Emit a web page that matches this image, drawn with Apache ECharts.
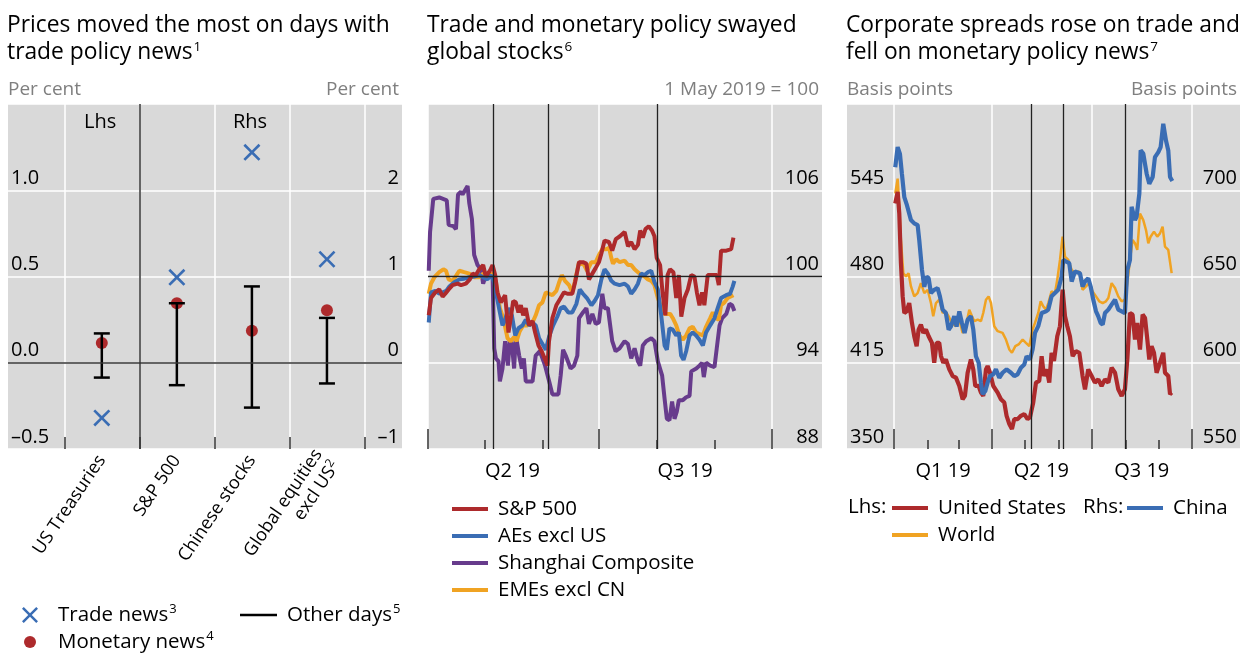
<!DOCTYPE html>
<html><head><meta charset="utf-8">
<script src="https://cdn.jsdelivr.net/npm/echarts@6/dist/echarts.min.js"></script>
<style>html,body{margin:0;padding:0;background:#fff}#c{width:1252px;height:654px}</style>
</head><body><div id="c"></div>
<script>
// ================= DATA =================
// Panel 1
const p1Categories = ['US Treasuries', 'S&P 500', 'Chinese stocks', 'Global equities\nexcl US'];
const p1CategorySup = ['', '', '', '2'];
const p1Side = ['lhs', 'rhs', 'rhs', 'rhs'];
const p1TradeNews = [-0.32, 0.99, 2.44, 1.20];
const p1MonetaryNews = [0.115, 0.69, 0.37, 0.61];
const p1OtherHigh = [0.17, 0.69, 0.885, 0.52];
const p1OtherLow = [-0.086, -0.26, -0.52, -0.24];
const p1LhsTicks = [-0.5, 0, 0.5, 1.0, 1.5];
const p1RhsTicks = [-1, 0, 1, 2, 3];

// Panel 2 (days since 1 Apr 2019, index 1 May 2019 = 100)
const p2Base = '2019-04-01';
const p2SpDays = [0.4,1.6,3.9,6.0,7.8,9.2,11.0,13.1,15.8,17.6,20.2,22.3,23.8,25.5,27.3,29.4,30.8,33.0,34.4,35.8,37.0,38.8,41.1,42.9,44.1,45.4,46.8,48.2,49.5,50.7,52.1,53.9,55.7,57.1,58.9,60.6,62.8,63.7,64.5,66.3,68.4,70.7,72.5,74.3,76.9,78.4,80.5,82.6,84.4,85.8,87.6,89.4,91.1,92.4,94.1,96.4,98.2,100.1,102.3,104.8,106.6,108.3,110.1,111.9,113.1,114.5,115.9,117.7,119.4,120.7,121.9,123.7,125.0,126.5,127.7,129.0,130.8,132.3,133.7,135.0,136.7,138.5,140.3,142.0,143.3,144.7,146.1,147.3,149.1,151.8,153.9,155.0,156.2,159.0,161.6,162.8];
const p2SpVals = [97.3,98.5,98.9,99.1,98.6,98.8,99.1,99.4,99.5,99.4,99.5,99.8,100.2,100.1,100.5,100.8,100.0,100.4,100.8,100.1,98.9,98.2,98.7,96.1,97.1,98.3,98.2,97.5,98.0,97.3,97.8,96.6,96.9,96.1,95.2,94.8,94.1,93.8,95.5,97.1,98.0,98.5,98.9,98.8,98.8,99.6,101.0,101.0,100.9,99.8,100.2,100.6,101.0,101.6,102.5,102.4,101.8,102.6,102.8,103.1,102.1,102.4,101.9,102.2,103.2,102.7,103.3,103.5,103.2,102.8,101.3,100.8,98.9,97.3,100.1,100.5,100.3,98.5,100.1,97.2,98.5,99.1,100.1,100.0,98.9,98.0,98.9,98.0,100.1,100.1,100.1,99.4,101.8,101.8,101.9,102.7];
const p2AeDays = [0.4,1.6,3.9,6.0,9.7,11.4,14.0,16.7,19.3,22.0,24.6,27.3,29.4,31.7,33.5,35.3,36.5,38.3,39.7,41.1,42.9,44.7,46.5,48.2,50.4,52.1,53.9,55.7,57.4,59.2,61.0,62.8,64.5,66.7,68.9,70.7,72.5,74.8,76.9,79.1,80.9,82.6,84.7,87.1,88.8,90.6,92.4,94.1,95.9,97.7,99.5,102.1,104.8,106.6,108.3,110.1,111.9,113.6,115.4,117.2,119.0,120.7,122.5,124.3,126.1,127.3,128.7,130.5,132.3,133.7,134.9,136.2,137.6,139.4,141.1,142.9,144.7,146.5,148.2,150.4,152.7,154.4,156.2,158.9,161.0,162.4,163.3];
const p2AeVals = [96.8,98.9,99.0,98.8,99.0,99.3,99.6,99.8,99.85,99.95,100.0,100.1,99.95,99.8,100.1,99.6,98.7,97.5,96.6,97.0,97.8,97.3,95.9,96.4,96.6,97.0,96.6,96.8,96.6,95.7,95.3,94.9,95.8,96.6,97.2,97.8,97.9,97.5,97.5,98.1,99.1,98.8,98.5,98.0,98.3,98.7,99.8,100.5,100.2,99.7,99.5,99.4,99.5,99.3,98.8,99.1,99.5,100.2,100.1,100.3,100.4,99.6,99.1,97.3,95.2,94.9,96.4,96.3,95.9,96.1,94.5,94.2,94.8,95.9,96.1,95.9,95.6,95.2,96.1,96.6,97.1,97.8,98.5,98.7,98.8,99.3,99.7];
const p2ShDays = [0.4,1.1,2.8,6.0,10.0,11.0,13.5,14.9,16.0,17.6,18.4,21.1,22.0,23.4,24.6,26.4,28.2,29.4,30.8,33.0,34.4,35.3,36.2,37.6,38.3,39.7,41.1,42.6,43.6,44.7,45.9,46.8,48.6,50.0,51.1,52.1,55.7,57.4,59.6,61.0,62.4,64.6,66.3,69.5,70.7,72.0,73.4,76.0,77.8,79.6,80.5,82.6,84.4,85.8,87.6,89.4,91.1,92.9,94.1,95.9,98.2,100.0,102.1,104.8,106.6,108.3,110.1,111.9,113.1,114.5,116.3,119.0,120.7,122.5,124.8,126.1,127.3,128.7,130.1,131.4,132.6,133.7,135.8,137.6,139.4,140.3,143.0,144.7,146.1,147.0,148.2,150.4,152.7,153.9,155.4,156.8,159.0,160.7,162.1,163.3];
const p2ShVals = [100.4,103.1,105.4,105.5,105.3,103.6,103.5,103.3,105.7,105.9,105.7,106.3,105.1,104.0,101.5,100.8,100.5,99.5,100.1,100.2,100.1,95.0,94.3,94.1,92.7,93.6,95.5,93.8,95.6,95.3,93.6,95.9,94.5,93.6,94.3,92.7,92.7,94.5,94.8,94.3,93.8,92.7,91.8,91.8,93.1,94.9,94.5,93.6,93.8,94.5,97.1,97.5,97.8,96.7,97.4,96.7,96.8,98.8,97.8,97.8,95.5,94.8,95.0,95.5,95.3,94.3,95.0,94.1,93.8,95.2,95.5,95.7,95.5,94.1,93.1,91.5,90.1,90.0,91.3,90.1,90.6,91.4,91.4,91.6,91.7,93.4,93.6,93.8,94.0,93.0,94.0,93.8,93.7,95.0,96.6,97.1,97.4,98.1,98.0,97.6];
const p2EmDays = [0.4,1.6,3.4,6.0,8.2,9.6,11.0,13.1,15.2,16.7,19.3,22.0,24.6,27.3,29.4,31.7,34.4,36.2,38.3,40.1,42.4,44.1,45.9,47.2,48.9,50.7,53.0,55.7,57.4,59.2,61.0,62.8,64.5,66.3,68.4,69.9,71.3,73.0,75.2,76.9,78.4,80.5,83.2,84.8,87.1,89.4,91.1,92.9,95.0,96.5,97.7,98.6,100.4,102.1,104.8,106.6,108.3,110.1,111.9,113.7,115.4,117.2,119.0,120.7,122.5,124.3,126.1,129.1,130.5,132.3,134.0,135.8,137.6,139.4,141.1,142.9,144.7,146.5,148.2,150.4,151.8,153.5,155.0,156.2,158.0,159.7,162.8];
const p2EmVals = [98.8,99.5,99.95,100.3,100.5,100.4,99.8,99.7,100.1,100.4,100.3,100.2,99.95,99.95,100.2,100.1,100.2,99.6,97.8,97.1,95.7,95.5,95.8,95.5,96.2,96.6,96.6,96.8,97.3,98.0,98.2,98.9,98.8,98.7,99.0,99.6,100.1,99.7,99.4,98.9,99.7,101.0,100.8,100.4,101.0,101.0,101.5,101.9,101.9,102.0,101.3,100.9,101.2,101.0,101.1,100.8,100.8,100.5,100.3,100.1,100.0,99.8,99.7,99.4,98.5,97.9,97.4,97.4,97.1,96.6,95.9,95.6,95.9,96.4,96.5,96.1,96.0,95.9,96.5,97.1,97.5,97.1,97.0,98.0,98.2,98.5,98.7];
const p2Events = ['2019-05-06', '2019-06-04', '2019-08-01'];
const p2QuarterTicks = ['2019-04-01', '2019-07-01', '2019-10-01'];
const p2MonthTicks = ['2019-05-01', '2019-06-01', '2019-08-01', '2019-09-01'];
const p2QuarterLabels = ['Q2 19', 'Q3 19'];
const p2QuarterMids = ['2019-05-16', '2019-08-16'];

// Panel 3 (days since 1 Jan 2019, basis points)
const p3Base = '2019-01-01';
const p3UsDays = [1.2,3.4,4.9,6.4,8.0,9.5,11.6,14.0,16.5,18.6,20.8,22.6,24.7,26.9,29.3,31.8,34.8,36.9,39.1,41.5,43.1,45.2,47.6,50.7,53.8,56.8,59.9,62.9,65.0,67.5,70.5,72.7,74.5,77.6,79.7,81.8,84.3,85.8,88.0,91.0,95.0,98.0,101.1,103.2,105.7,108.1,110.2,113.3,116.3,119.4,122.4,124.6,127.6,130.1,133.1,135.3,137.4,139.9,142.3,144.4,146.6,149.6,152.1,154.5,156.7,158.8,161.2,163.7,166.7,169.8,172.8,175.0,178.0,181.1,184.1,187.2,190.2,193.3,196.4,199.4,202.5,205.5,208.6,211.6,213.8,216.2,218.6,220.8,222.9,225.4,227.8,230.0,232.1,233.9,236.0,238.2,240.6,243.7,246.7,248.3,251.3,252.9,254.4];
const p3UsVals = [535,543.8,527.5,490,465,452.5,453.8,460,445,435,427.5,440,443.8,437.5,440,435,430,415,430,430,420,415,417.5,410,405,403.8,397.5,387.5,390,407.5,417.5,410,397.5,397.5,392.5,390,410,412.5,407.5,397.5,392.5,387.5,385,375,368.8,365,372.5,372.5,375,376.3,372.5,373.8,385,400,401.3,420,405,410,400,422.5,416.3,435,442.5,470,450,442.5,435,420,423.8,422.5,405,395,410,405,400,402.5,397.5,402.5,400,411.3,407.5,395,390,395,417.5,452.5,451.3,432.5,445,425,451.3,448.8,432.5,417.5,427.5,422.5,407.5,415,422.5,407.5,405,391.3,392.5];
const p3WorldDays = [1.2,3.4,4.9,6.4,8.6,11.0,13.4,15.6,18.6,21.7,24.7,27.8,30.9,33.9,36.0,38.5,41.5,44.6,47.0,50.1,53.1,56.8,59.9,62.9,65.9,69.0,71.5,73.6,76.7,79.7,81.8,84.3,86.7,88.9,91.9,95.0,99.5,102.6,105.7,108.1,111.2,114.2,117.9,120.9,124.0,127.0,129.2,132.2,134.4,136.8,139.3,141.4,144.4,147.5,149.6,152.1,154.5,156.7,159.7,162.8,165.8,169.8,172.8,175.9,179.0,182.0,185.1,188.1,191.2,194.2,196.4,199.4,202.5,205.5,208.6,211.6,213.8,216.2,218.6,220.8,222.9,225.4,228.4,230.9,233.0,235.1,238.2,241.2,243.7,246.1,248.3,251.3,254.4];
const p3WorldVals = [542.5,553.8,532.5,507.5,482.5,480,482.5,472.5,465,467.5,475,467.5,470,460,450,460,462.5,452.5,453.8,450,445,442.5,447.5,437.5,442.5,455,450,446.3,447.5,446.3,452.5,462.5,465,460,442.5,438.8,437.5,432.5,425,422.5,427.5,428.8,432.5,430,427.5,440,445,452.5,461.3,457.5,455,460,468.8,467.5,477.5,492.5,510,495,492.5,485,482.5,483.8,470,472.5,475,468.8,465,461.3,460,461.3,463.8,475,471.3,465,461.3,462.5,475,492.5,507.5,505,500,527.5,522.5,515,505,510,513.8,510,512.5,517.5,502.5,500,482.5];
const p3ChinaDays = [1.2,3.4,5.5,7.3,9.5,11.6,13.4,15.6,18.6,21.7,23.2,25.7,27.8,29.9,31.8,33.9,36.9,40.0,42.1,44.6,47.6,50.1,52.2,55.3,57.4,59.9,62.3,64.7,67.5,70.5,72.7,75.1,77.6,79.7,81.2,83.7,85.8,88.0,91.0,93.4,96.5,99.5,103.2,107.2,110.2,113.3,116.3,119.4,121.5,124.6,127.0,129.2,132.2,135.3,139.3,141.4,144.4,147.5,150.5,153.6,155.1,157.6,160.6,162.8,165.8,170.4,172.8,175.0,178.0,180.2,182.6,185.1,187.2,189.3,191.2,193.3,196.4,199.4,202.5,205.5,208.6,211.6,213.8,216.2,217.7,219.3,220.8,222.3,224.8,226.0,228.4,231.5,233.9,237.0,239.1,242.2,244.3,246.7,249.2,251.3,252.9,255.0];
const p3ChinaVals = [713.4,725,721,709.6,696,692,693,682.7,680.8,679.8,671,653.8,644,650,649,640.4,642.3,643.3,638.5,630.8,628.8,619.2,621,627,621,629.8,623,617.3,625,627,619.2,603.8,600,588.5,581.7,583.7,588.5,592.3,593.3,596.2,591.3,594.2,596.2,594.2,592.3,593.3,597.1,599,603.8,601.9,607.7,617.3,621.2,628.8,629.8,630.8,638.5,640.4,642.3,650,659.6,658.7,657.7,647.1,652.9,651.9,644.2,647.1,649,644.2,636.5,629.8,626.9,623.1,622.1,628.8,630.8,633.7,636.5,630.8,629.8,628.8,653.8,659.6,690.4,691.3,682.7,684.6,698.1,723.1,721.2,709.6,703.8,707.7,719.2,722.1,725,738.5,728.8,723.1,707.7,705.4];
const p3Events = ['2019-05-07', '2019-06-05', '2019-08-01'];
const p3QuarterTicks = ['2019-01-01', '2019-04-01', '2019-07-01', '2019-10-01'];
const p3MonthTicks = ['2019-02-01', '2019-03-01', '2019-05-01', '2019-06-01', '2019-08-01', '2019-09-01'];
const p3QuarterLabels = ['Q1 19', 'Q2 19', 'Q3 19'];
const p3QuarterMids = ['2019-02-15', '2019-05-16', '2019-08-16'];

// ================= HELPERS =================
const FONT = 'Open Sans';
const C = { red: '#ad2a2c', blue: '#3a6db4', purple: '#673b8c', orange: '#f0a323', bg: '#d9d9d9', grid: '#ffffff', ink: '#222222', grey: '#7f7f7f' };
const D = s => { const [y, m, d] = s.split('-').map(Number); return new Date(y, m - 1, d).getTime(); };
const DAY = 86400000;
const toSeries = (base, days, vals) => days.map((d, i) => [D(base) + d * DAY, vals[i]]);
const dash = v => (v < 0 ? '\u2013' : '') + Math.abs(v);
const LEG = 20.5;
const supRich = { n: { fontSize: LEG, lineHeight: 24, color: '#000', fontFamily: FONT }, s: { fontSize: 13, lineHeight: 24, verticalAlign: 'top', color: '#000', fontFamily: FONT, padding: [0, 0, 0, 1] } };
const CROSS = 'path://M0,2.2 L2.2,0 L10,7.8 L17.8,0 L20,2.2 L12.2,10 L20,17.8 L17.8,20 L10,12.2 L2.2,20 L0,17.8 L7.8,10 Z';
const legText = pad => ({ fontSize: LEG, lineHeight: 24, color: '#000', fontFamily: FONT, padding: [0, 0, 0, pad] });

function yLabel(align) {
  return { inside: true, margin: 3, verticalAlign: 'bottom', showMaxLabel: false, fontSize: 20, color: '#000', fontFamily: FONT, padding: [0, 0, 2, 0], align: align };
}
function axisName(align) {
  return { align: align, verticalAlign: 'bottom', color: C.grey, fontSize: 19, fontFamily: FONT, padding: align === 'right' ? [0, 3, 0, 0] : [0, 0, 0, 0] };
}

const p1Pts = (vals, side) => vals.map((v, i) => [i + 1, v, p1Side[i]]).filter(p => p[2] === side).map(p => [p[0], p[1]]);
const p1Bars = side => p1OtherLow.map((lo, i) => [i + 1, lo, p1OtherHigh[i], p1Side[i]]).filter(p => p[3] === side).map(p => [p[0], p[1], p[2]]);
function barRender(params, api) {
  const x = api.value(0);
  const lo = api.coord([x, api.value(1)]);
  const hi = api.coord([x, api.value(2)]);
  const w = 8;
  const st = { stroke: '#000', lineWidth: 2.5 };
  return { type: 'group', children: [
    { type: 'line', shape: { x1: lo[0], y1: lo[1], x2: hi[0], y2: hi[1] }, style: st },
    { type: 'line', shape: { x1: lo[0] - w, y1: lo[1], x2: lo[0] + w, y2: lo[1] }, style: st },
    { type: 'line', shape: { x1: hi[0] - w, y1: hi[1], x2: hi[0] + w, y2: hi[1] }, style: st }
  ] };
}
const lineSeries = (name, color, width, xi, yi, data, extra) => Object.assign({
  name, type: 'line', xAxisIndex: xi, yAxisIndex: yi, data, showSymbol: false, symbol: 'none',
  lineStyle: { color, width }, itemStyle: { color }, animation: false
}, extra || {});
const eventMarks = (events, hLines) => ({
  silent: true, symbol: 'none', label: { show: false },
  lineStyle: { color: C.ink, width: 1.3, type: 'solid' },
  data: events.map(e => ({ xAxis: D(e) })).concat((hLines || []).map(v => ({ yAxis: v })))
});
const timeXAxis = (gi, minS, maxS, qTicks, qMids, qLabels) => ({
  type: 'value', gridIndex: gi, min: D(minS), max: D(maxS), position: 'bottom',
  axisLine: { show: false, onZero: false },
  axisTick: { show: true, inside: true, length: 20, customValues: qTicks.map(D), lineStyle: { color: '#333', width: 1.5 } },
  splitLine: { show: true, lineStyle: { color: C.grid, width: 1.5 } },
  axisLabel: { customValues: qMids.map(D), formatter: v => qLabels[qMids.map(D).indexOf(v)] || '', fontSize: 20, color: '#000', fontFamily: FONT, margin: 12 }
});
const monthXAxis = (gi, minS, maxS, mTicks) => ({
  type: 'value', gridIndex: gi, min: D(minS), max: D(maxS), position: 'bottom',
  axisLine: { show: false, onZero: false }, splitLine: { show: false }, axisLabel: { show: false },
  axisTick: { show: true, inside: true, length: 9, customValues: mTicks.map(D), lineStyle: { color: '#333', width: 1.5 } }
});
const yBase = { axisLine: { show: false, onZero: false }, axisTick: { show: false }, nameLocation: 'end', nameGap: 5 };

const titleRich = { t: { fontSize: 22.8, lineHeight: 27, color: '#000', fontFamily: FONT, fontWeight: 'normal' }, s: { fontSize: 13.5, lineHeight: 27, verticalAlign: 'top', color: '#000', fontFamily: FONT, fontWeight: 'normal', padding: [1, 0, 0, 1] } };

const option = {
  animation: false,
  textStyle: { fontFamily: FONT },
  title: [
    { left: 7, top: 12, text: '{t|Prices moved the most on days with}\n{t|trade policy news}{s|1}' },
    { left: 427, top: 12, text: '{t|Trade and monetary policy swayed}\n{t|global stocks}{s|6}' },
    { left: 846, top: 12, text: '{t|Corporate spreads rose on trade and}\n{t|fell on monetary policy news}{s|7}' }
  ].map(t => Object.assign(t, { padding: 0, textStyle: { fontWeight: 'normal', rich: titleRich } })),
  grid: [
    { left: 8, top: 104, width: 394, height: 345 },
    { left: 428, top: 104, width: 394, height: 345 },
    { left: 847, top: 104, width: 393, height: 345 }
  ].map(g => Object.assign(g, { show: true, backgroundColor: C.bg, borderWidth: 0, containLabel: false, outerBoundsMode: 'none' })),
  xAxis: [
    { type: 'value', gridIndex: 0, min: -0.25, max: 5, position: 'bottom',
      axisLine: { show: false, onZero: false },
      axisTick: { show: true, inside: true, length: 12, customValues: [0.5, 1.5, 2.5, 3.5, 4.5], lineStyle: { color: '#333', width: 1.5 } },
      splitLine: { show: true, lineStyle: { color: C.grid, width: 1.5 } },
      axisLabel: { customValues: [1, 2, 3, 4], rotate: 56, margin: 8, color: '#000', fontFamily: FONT,
        formatter: v => { const i = Math.round(v) - 1; if (!p1Categories[i]) return ''; const lines = p1Categories[i].split('\n'); return lines.map((l, k) => '{n|' + l + '}' + (k === lines.length - 1 && p1CategorySup[i] ? '{s|' + p1CategorySup[i] + '}' : '')).join('\n'); },
        rich: { n: { fontSize: 18, lineHeight: 21, color: '#000', fontFamily: FONT }, s: { fontSize: 12, lineHeight: 21, verticalAlign: 'top', color: '#000', fontFamily: FONT } } } },
    timeXAxis(1, '2019-04-01', '2019-10-28', p2QuarterTicks, p2QuarterMids, p2QuarterLabels),
    monthXAxis(1, '2019-04-01', '2019-10-28', p2MonthTicks),
    timeXAxis(2, '2018-11-19', '2019-11-14', p3QuarterTicks, p3QuarterMids, p3QuarterLabels),
    monthXAxis(2, '2018-11-19', '2019-11-14', p3MonthTicks)
  ],
  yAxis: [
    Object.assign({ type: 'value', gridIndex: 0, position: 'left', min: p1LhsTicks[0], max: p1LhsTicks[p1LhsTicks.length - 1], interval: p1LhsTicks[1] - p1LhsTicks[0],
      name: 'Per cent', nameTextStyle: axisName('left'),
      axisLabel: Object.assign(yLabel('left'), { formatter: v => (v < 0 ? '\u2013' : '') + Math.abs(v).toFixed(1) }),
      splitLine: { show: true, lineStyle: { color: C.grid, width: 1.5 } } }, yBase),
    Object.assign({ type: 'value', gridIndex: 0, position: 'right', min: p1RhsTicks[0], max: p1RhsTicks[p1RhsTicks.length - 1], interval: p1RhsTicks[1] - p1RhsTicks[0],
      name: 'Per cent', nameTextStyle: axisName('right'),
      axisLabel: Object.assign(yLabel('right'), { formatter: dash }),
      splitLine: { show: false } }, yBase),
    Object.assign({ type: 'value', gridIndex: 1, position: 'right', min: 88, max: 112, interval: 6,
      name: '1 May 2019 = 100', nameTextStyle: axisName('right'),
      axisLabel: yLabel('right'),
      splitLine: { show: true, lineStyle: { color: C.grid, width: 1.5 } } }, yBase),
    Object.assign({ type: 'value', gridIndex: 2, position: 'left', min: 350, max: 610, interval: 65,
      name: 'Basis points', nameTextStyle: axisName('left'),
      axisLabel: yLabel('left'),
      splitLine: { show: true, lineStyle: { color: C.grid, width: 1.5 } } }, yBase),
    Object.assign({ type: 'value', gridIndex: 2, position: 'right', min: 550, max: 750, interval: 50,
      name: 'Basis points', nameTextStyle: axisName('right'),
      axisLabel: yLabel('right'),
      splitLine: { show: false } }, yBase)
  ],
  legend: [
    { data: ['Trade news'], left: 22, top: 603, padding: 0, itemWidth: 16, itemHeight: 16, icon: CROSS, formatter: n => '{n|' + n + '}{s|3}', textStyle: { rich: supRich, padding: [0, 0, 0, 15] }, selectedMode: false },
    { data: ['Monetary news'], left: 24, top: 630, padding: 0, itemWidth: 12, itemHeight: 12, icon: 'circle', formatter: n => '{n|' + n + '}{s|4}', textStyle: { rich: supRich, padding: [0, 0, 0, 17] }, selectedMode: false },
    { data: ['Other days'], left: 240, top: 603, padding: 0, itemWidth: 37, itemHeight: 2.5, icon: 'rect', formatter: n => '{n|' + n + '}{s|5}', textStyle: { rich: supRich, padding: [0, 0, 0, 5] }, selectedMode: false },
    { data: ['S&P 500', 'AEs excl US', 'Shanghai Composite', 'EMEs excl CN'], orient: 'vertical', left: 452, top: 497, padding: 0, itemWidth: 36, itemHeight: 4, itemGap: 3, icon: 'rect', textStyle: legText(5), selectedMode: false },
    { data: ['United States', 'World'], orient: 'vertical', left: 892, top: 496, padding: 0, itemWidth: 36, itemHeight: 4, itemGap: 3, icon: 'rect', textStyle: legText(5), selectedMode: false },
    { data: ['China'], orient: 'vertical', left: 1127, top: 496, padding: 0, itemWidth: 36, itemHeight: 4, icon: 'rect', textStyle: legText(5), selectedMode: false }
  ],
  graphic: [
    { type: 'text', left: 84, top: 112, style: { text: 'Lhs', fontSize: 20, fontFamily: FONT, fill: '#000' } },
    { type: 'text', left: 233, top: 112, style: { text: 'Rhs', fontSize: 20, fontFamily: FONT, fill: '#000' } },
    { type: 'text', left: 848, top: 497, style: { text: 'Lhs:', fontSize: LEG, fontFamily: FONT, fill: '#000' } },
    { type: 'text', left: 1083, top: 497, style: { text: 'Rhs:', fontSize: LEG, fontFamily: FONT, fill: '#000' } }
  ],
  series: [
    { name: 'Monetary news', type: 'scatter', xAxisIndex: 0, yAxisIndex: 0, data: p1Pts(p1MonetaryNews, 'lhs'), symbol: 'circle', symbolSize: 12, itemStyle: { color: C.red, opacity: 1 }, z: 3 },
    { name: 'Monetary news', type: 'scatter', xAxisIndex: 0, yAxisIndex: 1, data: p1Pts(p1MonetaryNews, 'rhs'), symbol: 'circle', symbolSize: 12, itemStyle: { color: C.red, opacity: 1 }, z: 3 },
    { name: 'Trade news', type: 'scatter', xAxisIndex: 0, yAxisIndex: 0, data: p1Pts(p1TradeNews, 'lhs'), symbol: CROSS, symbolSize: 17, itemStyle: { color: C.blue, opacity: 1 }, z: 3 },
    { name: 'Trade news', type: 'scatter', xAxisIndex: 0, yAxisIndex: 1, data: p1Pts(p1TradeNews, 'rhs'), symbol: CROSS, symbolSize: 17, itemStyle: { color: C.blue, opacity: 1 }, z: 3 },
    { name: 'Other days', type: 'custom', xAxisIndex: 0, yAxisIndex: 0, data: p1Bars('lhs'), renderItem: barRender, encode: { x: 0, y: [1, 2] }, itemStyle: { color: '#000' }, z: 4,
      markLine: { silent: true, symbol: 'none', label: { show: false }, lineStyle: { color: '#333', width: 1.5, type: 'solid' }, data: [{ yAxis: 0 }, { xAxis: 1.5 }] } },
    { name: 'Other days', type: 'custom', xAxisIndex: 0, yAxisIndex: 1, data: p1Bars('rhs'), renderItem: barRender, encode: { x: 0, y: [1, 2] }, itemStyle: { color: '#000' }, z: 4 },
    lineSeries('Shanghai Composite', C.purple, 4, 1, 2, toSeries(p2Base, p2ShDays, p2ShVals), { markLine: eventMarks(p2Events, [100]) }),
    lineSeries('EMEs excl CN', C.orange, 4, 1, 2, toSeries(p2Base, p2EmDays, p2EmVals)),
    lineSeries('AEs excl US', C.blue, 4, 1, 2, toSeries(p2Base, p2AeDays, p2AeVals)),
    lineSeries('S&P 500', C.red, 4, 1, 2, toSeries(p2Base, p2SpDays, p2SpVals)),
    lineSeries('World', C.orange, 2.5, 3, 3, toSeries(p3Base, p3WorldDays, p3WorldVals), { markLine: eventMarks(p3Events) }),
    lineSeries('United States', C.red, 4.2, 3, 3, toSeries(p3Base, p3UsDays, p3UsVals)),
    lineSeries('China', C.blue, 4.2, 3, 4, toSeries(p3Base, p3ChinaDays, p3ChinaVals))
  ]
};
const chart = echarts.init(document.getElementById('c'), null, { renderer: 'canvas' });
chart.setOption(option);
</script></body></html>
